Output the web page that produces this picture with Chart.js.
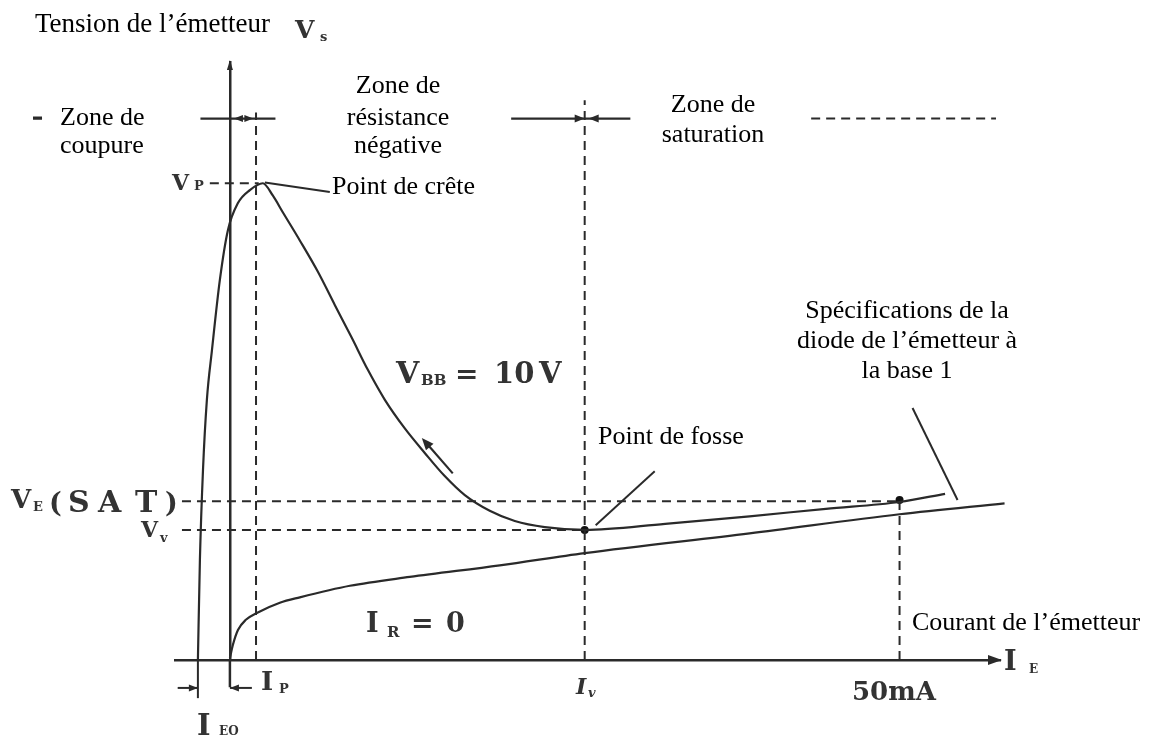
<!DOCTYPE html>
<html>
<head>
<meta charset="utf-8">
<script src="https://cdn.jsdelivr.net/npm/chart.js@4.4.1/dist/chart.umd.min.js"></script>
<style>
  html, body { margin: 0; padding: 0; background: #fff; }
  #wrap { width: 1155px; height: 740px; }
</style>
</head>
<body>
<div id="wrap"><canvas id="ujtChart" width="1155" height="740"></canvas></div>
<script>
// UJT emitter characteristic (I_E in mA, V_E in V)
const mainCurrent = [-2.39, -2.24, -2.01, -1.72, -1.34, -0.75, -0.15, 0.6, 1.49, 2.46, 3.2, 3.96, 5.22, 6.57, 7.84, 9.1, 10.3, 11.57, 13.06, 14.55, 16.04, 17.54, 19.4, 21.27, 23.51, 26.49, 32.5, 38.8, 44.5, 50, 53.4]
const mainVoltage = [0, 1.47, 2.79, 3.82, 4.55, 5.58, 6.31, 6.71, 6.9, 7.0, 6.82, 6.57, 6.16, 5.7, 5.21, 4.73, 4.26, 3.82, 3.4, 3.04, 2.7, 2.42, 2.19, 2.04, 1.95, 1.91, 2.0, 2.11, 2.22, 2.32, 2.44]

// I_R = 0 curve (emitter to base 1 diode)
const diodeCurrent = [0, 0.22, 0.6, 1.19, 2.01, 3.73, 5.22, 8.96, 13.43, 20.15, 26.49, 38.8, 50, 57.84]
const diodeVoltage = [0.03, 0.22, 0.44, 0.59, 0.69, 0.84, 0.92, 1.09, 1.22, 1.39, 1.57, 1.86, 2.14, 2.3]

// characteristic points
const leakCurrent = -2.39   // I_EO
const peakCurrent = 1.95    // I_P
const peakVoltage = 7.0     // V_P
const valleyCurrent = 26.49 // I_V
const valleyVoltage = 1.91  // V_V
const satCurrent = 50       // 50mA
const satVoltage = 2.33     // V_E(SAT)

// zone separator line (height and segments, mA)
const zoneVoltage = 7.95
const zoneSolid = [[-2.2, 3.4], [21.0, 26.49], [26.49, 29.9]]
const zoneDashed = [[43.4, 57.2], [-14.7, -14.0]]

const refStart = -3.58
const xMin = -4.1
const xMax = 57.5
const yMin = 0
const yMax = 8.78

function pts(xs, ys) {
  return xs.map((x, i) => ({ x: x, y: ys[i] }))
}

const ink = '#2a2a2a'

function dashed(data) {
  return {
    data: data, showLine: true, borderColor: ink, borderWidth: 2,
    borderDash: [9, 6], pointRadius: 0, tension: 0, clip: false,
  }
}

const datasets = [
  {
    label: 'VBB = 10 V',
    data: pts(mainCurrent, mainVoltage),
    showLine: true, borderColor: ink, borderWidth: 2.2,
    pointRadius: 0, cubicInterpolationMode: 'monotone', clip: false,
  },
  {
    label: 'IR = 0',
    data: pts(diodeCurrent, diodeVoltage),
    showLine: true, borderColor: ink, borderWidth: 2.2,
    pointRadius: 0, cubicInterpolationMode: 'monotone', clip: false,
  },
  dashed([{ x: -1.5, y: peakVoltage }, { x: peakCurrent + 0.2, y: peakVoltage }]),
  dashed([{ x: refStart, y: satVoltage }, { x: satCurrent, y: satVoltage }]),
  dashed([{ x: refStart, y: valleyVoltage }, { x: valleyCurrent, y: valleyVoltage }]),
  dashed([{ x: peakCurrent, y: 0 }, { x: peakCurrent, y: 8.04 }]),
  dashed([{ x: valleyCurrent, y: 0 }, { x: valleyCurrent, y: 8.22 }]),
  dashed([{ x: satCurrent, y: 0 }, { x: satCurrent, y: satVoltage }]),
  {
    label: 'points',
    data: [{ x: valleyCurrent, y: valleyVoltage }, { x: satCurrent, y: satVoltage + 0.02 }],
    showLine: false, pointRadius: 4, backgroundColor: '#111', borderWidth: 0, clip: false,
  },
]

zoneSolid.forEach(function (s) {
  datasets.push({
    data: [{ x: s[0], y: zoneVoltage }, { x: s[1], y: zoneVoltage }],
    showLine: true, borderColor: ink, borderWidth: 2.2, pointRadius: 0, clip: false,
  })
})
zoneDashed.forEach(function (s) {
  datasets.push(dashed([{ x: s[0], y: zoneVoltage }, { x: s[1], y: zoneVoltage }]))
})

// leader lines (mA, V)
const leaders = [
  [[2.61, 7.01], [7.46, 6.87]],
  [[27.31, 1.98], [31.72, 2.77]],
  [[54.33, 2.35], [50.97, 3.7]],
]

const drawings = {
  id: 'drawings',
  afterDatasetsDraw(chart) {
    const ctx = chart.ctx
    const X = v => chart.scales.x.getPixelForValue(v)
    const Y = v => chart.scales.y.getPixelForValue(v)

    function seg(x1, y1, x2, y2, w) {
      ctx.beginPath()
      ctx.moveTo(x1, y1)
      ctx.lineTo(x2, y2)
      ctx.lineWidth = w || 2
      ctx.strokeStyle = ink
      ctx.setLineDash([])
      ctx.stroke()
    }
    function head(x1, y1, x2, y2, len, wid) {
      const a = Math.atan2(y2 - y1, x2 - x1)
      ctx.beginPath()
      ctx.moveTo(x2, y2)
      ctx.lineTo(x2 - len * Math.cos(a) + wid * Math.sin(a), y2 - len * Math.sin(a) - wid * Math.cos(a))
      ctx.lineTo(x2 - len * Math.cos(a) - wid * Math.sin(a), y2 - len * Math.sin(a) + wid * Math.cos(a))
      ctx.closePath()
      ctx.fillStyle = ink
      ctx.fill()
    }
    function txt(s, x, y, font, align) {
      ctx.font = font
      ctx.textAlign = align || 'left'
      ctx.textBaseline = 'alphabetic'
      ctx.fillText(s, x, y)
    }

    ctx.save()
    // axis arrows
    head(X(xMax) - 20, Y(0), X(xMax) + 2, Y(0), 14, 5)
    head(X(0), Y(yMax) + 20, X(0), Y(yMax) - 2, 10, 3)

    // leaders
    leaders.forEach(function (l) {
      seg(X(l[0][0]), Y(l[0][1]), X(l[1][0]), Y(l[1][1]), 2)
    })
    // direction arrow along the V_BB curve
    seg(X(16.64), Y(2.74), X(14.6), Y(3.2), 2.2)
    head(X(16.64), Y(2.74), X(14.33), Y(3.26), 12, 5)

    // zone arrows
    head(X(21.0), Y(zoneVoltage), X(valleyCurrent), Y(zoneVoltage), 10, 4)
    head(X(29.9), Y(zoneVoltage), X(valleyCurrent + 0.3), Y(zoneVoltage), 10, 4)
    head(X(3.4), Y(zoneVoltage), X(0.3), Y(zoneVoltage), 9, 3.5)
    head(X(-2.2), Y(zoneVoltage), X(peakCurrent - 0.2), Y(zoneVoltage), 9, 3.5)

    // I_EO dimension marks
    const yDim = Y(-0.41)
    seg(X(leakCurrent), Y(0), X(leakCurrent), Y(-0.56), 2)
    seg(X(0), Y(0), X(0), Y(-0.4), 2.5)
    seg(X(-3.9), yDim, X(leakCurrent), yDim, 2)
    head(X(-3.9), yDim, X(leakCurrent), yDim, 9, 3.5)
    seg(X(1.64), yDim, X(0), yDim, 2)
    head(X(1.64), yDim, X(0), yDim, 9, 3.5)

    // French labels
    ctx.fillStyle = '#000'
    const fr = '26px "Liberation Serif"'
    txt('Tension de l\u2019\u00e9metteur', 35, 32, '27px "Liberation Serif"')
    txt('Zone de', 60, 125, fr)
    txt('coupure', 60, 153, fr)
    txt('Zone de', 398, 93, fr, 'center')
    txt('r\u00e9sistance', 398, 125, fr, 'center')
    txt('n\u00e9gative', 398, 153, fr, 'center')
    txt('Zone de', 713, 112, fr, 'center')
    txt('saturation', 713, 142, fr, 'center')
    txt('Point de cr\u00eate', 332, 194, fr)
    txt('Point de fosse', 598, 444, fr)
    txt('Sp\u00e9cifications de la', 907, 318, fr, 'center')
    txt('diode de l\u2019\u00e9metteur \u00e0', 907, 348, fr, 'center')
    txt('la base 1', 907, 378, fr, 'center')
    txt('Courant de l\u2019\u00e9metteur', 912, 630, fr)
    // small dash left of "Zone de coupure"
    seg(33, 118, 42, 118, 3)

    // symbol labels
    ctx.fillStyle = '#333'
    const sub = 'bold 13px "DejaVu Serif"'
    txt('V', 295, 38, 'bold 25px "DejaVu Serif"')
    txt('s', 320, 41, sub)
    txt('V', 172, 190, 'bold 22px "DejaVu Serif"')
    txt('P', 194, 190, sub)
    txt('V', 11, 508, 'bold 26px "DejaVu Serif"')
    txt('E', 33, 511, sub)
    txt('(', 49, 512, 'bold 27px "DejaVu Serif"')
    txt('S', 68, 512, 'bold 30px "DejaVu Serif"')
    txt('A', 98, 512, 'bold 30px "DejaVu Serif"')
    txt('T', 135, 512, 'bold 30px "DejaVu Serif"')
    txt(')', 165, 512, 'bold 27px "DejaVu Serif"')
    txt('V', 141, 537, 'bold 22px "DejaVu Serif"')
    txt('v', 160, 542, sub)
    txt('V', 396, 383, 'bold 30px "DejaVu Serif"')
    txt('BB', 421, 385, 'bold 15px "DejaVu Serif"')
    txt('=', 455, 383, 'bold 28px "DejaVu Serif"')
    txt('10', 494, 383, 'bold 29px "DejaVu Serif"')
    txt('V', 539, 383, 'bold 29px "DejaVu Serif"')
    txt('I', 366, 632, 'bold 27px "DejaVu Serif"')
    txt('R', 387, 637, 'bold 15px "DejaVu Serif"')
    txt('=', 411, 632, 'bold 27px "DejaVu Serif"')
    txt('0', 446, 632, 'bold 27px "DejaVu Serif"')
    txt('50mA', 852, 700, 'bold 26px "DejaVu Serif"')
    txt('I', 1004, 670, 'bold 27px "DejaVu Serif"')
    txt('E', 1029, 673, 'bold 12px "DejaVu Serif"')
    txt('I', 261, 690, 'bold 26px "DejaVu Serif"')
    txt('P', 279, 693, sub)
    txt('I', 197, 735, 'bold 29px "DejaVu Serif"')
    txt('EO', 219, 735, 'bold 12px "DejaVu Serif"')
    txt('I', 576, 694, 'italic bold 22px "DejaVu Serif"')
    txt('v', 588, 697, 'italic bold 13px "DejaVu Serif"')
    ctx.restore()
  },
}

const ctx = document.getElementById('ujtChart').getContext('2d')
const chart = new Chart(ctx, {
  type: 'scatter',
  data: { datasets: datasets },
  options: {
    responsive: false,
    animation: false,
    devicePixelRatio: 1,
    layout: { padding: { left: 175, right: 155, top: 62, bottom: 80 } },
    plugins: { legend: { display: false }, tooltip: { enabled: false } },
    scales: {
      x: {
        type: 'linear', min: xMin, max: xMax, position: { y: 0 },
        grid: { display: false, drawTicks: false },
        ticks: { display: false },
        border: { display: true, color: ink, width: 2.5 },
      },
      y: {
        type: 'linear', min: yMin, max: yMax, position: { x: 0 },
        grid: { display: false, drawTicks: false },
        ticks: { display: false },
        border: { display: true, color: ink, width: 2.5 },
      },
    },
  },
  plugins: [drawings],
})
</script>
</body>
</html>
